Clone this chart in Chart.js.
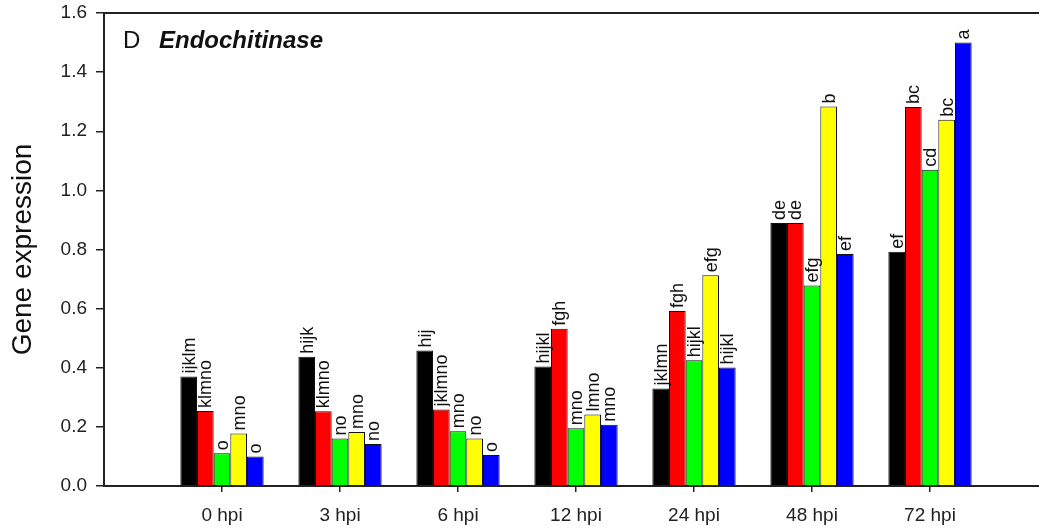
<!DOCTYPE html>
<html>
<head>
<meta charset="utf-8">
<script src="https://cdn.jsdelivr.net/npm/chart.js@4/dist/chart.umd.min.js"></script>
<style>
  html, body { margin: 0; padding: 0; background: #fff; overflow: hidden; }
  #wrap { position: relative; width: 1048px; height: 530px; }
</style>
</head>
<body>
<div id="wrap"><canvas id="barChart"></canvas></div>
<script>
// categories (time points)
const categories = ['0 hpi', '3 hpi', '6 hpi', '12 hpi', '24 hpi', '48 hpi', '72 hpi'];
const yTicks = [0, 0.2, 0.4, 0.6, 0.8, 1.0, 1.2, 1.4, 1.6];

// gene expression values, one array per bar colour
const blackValues  = [0.370, 0.437, 0.458, 0.404, 0.330, 0.890, 0.792];
const redValues    = [0.254, 0.253, 0.259, 0.532, 0.592, 0.890, 1.282];
const greenValues  = [0.111, 0.161, 0.185, 0.195, 0.425, 0.678, 1.070];
const yellowValues = [0.178, 0.183, 0.161, 0.242, 0.713, 1.284, 1.239];
const blueValues   = [0.100, 0.142, 0.105, 0.207, 0.401, 0.785, 1.500];

// significance letters above the bars
const blackLetters  = ['ijklm', 'hijk', 'hij', 'hijkl', 'jklmn', 'de', 'ef'];
const redLetters    = ['klmno', 'klmno', 'jklmno', 'fgh', 'fgh', 'de', 'bc'];
const greenLetters  = ['o', 'no', 'mno', 'mno', 'hijkl', 'efg', 'cd'];
const yellowLetters = ['mno', 'mno', 'no', 'lmno', 'efg', 'b', 'bc'];
const blueLetters   = ['o', 'no', 'o', 'mno', 'hijkl', 'ef', 'a'];

const FONT = 'Arial, "Liberation Sans", sans-serif';

// empty slot at each end so the axis runs past the first and last group
const labels = [''].concat(categories, ['']);
function pad(arr, fill) { return [fill].concat(arr, [fill]); }

function makeSet(name, values, letters, color) {
    return {
        label: name,
        data: pad(values, null),
        letters: pad(letters, ''),
        backgroundColor: color,
        borderColor: '#111',
        borderWidth: 1,
        borderSkipped: 'bottom',
        categoryPercentage: 0.706,
        barPercentage: 1.0
    };
}

// no extra padding from tick labels, so the plot box sits where the figure has it
function noPad(scale) {
    scale.paddingTop = 0;
    scale.paddingBottom = 0;
    scale.paddingLeft = 0;
    scale.paddingRight = 0;
}

const letterPlugin = {
    id: 'letters',
    afterDatasetsDraw(chart) {
        const ctx = chart.ctx;
        ctx.save();
        ctx.font = '18px ' + FONT;
        chart.data.datasets.forEach(function(ds, i) {
            const meta = chart.getDatasetMeta(i);
            meta.data.forEach(function(bar, j) {
                const txt = ds.letters[j];
                if (!txt || ds.data[j] == null) return;
                const w = ctx.measureText(txt).width;
                ctx.save();
                ctx.translate(bar.x, bar.y - 3);
                ctx.rotate(-Math.PI / 2);
                ctx.fillStyle = '#fff';
                ctx.fillRect(-1, -8, w + 2, 16);
                ctx.fillStyle = '#111';
                ctx.textAlign = 'left';
                ctx.textBaseline = 'middle';
                ctx.fillText(txt, 0, 1);
                ctx.restore();
            });
        });
        ctx.restore();
    }
};

const panelTitle = {
    id: 'panelTitle',
    afterDraw(chart) {
        const ctx = chart.ctx;
        const a = chart.chartArea;
        ctx.save();
        ctx.fillStyle = '#111';
        ctx.textBaseline = 'alphabetic';
        ctx.font = '24px ' + FONT;
        ctx.fillText('D', a.left + 19, a.top + 35);
        ctx.font = 'italic bold 24px ' + FONT;
        ctx.fillText('Endochitinase', a.left + 55, a.top + 35);
        ctx.restore();
    }
};

const barCtx = document.getElementById('barChart').getContext('2d');
const barChart = new Chart(barCtx, {
    type: 'bar',
    data: {
        labels: labels,
        datasets: [
            makeSet('black', blackValues, blackLetters, '#000000'),
            makeSet('red', redValues, redLetters, '#ff0000'),
            makeSet('green', greenValues, greenLetters, '#00ff00'),
            makeSet('yellow', yellowValues, yellowLetters, '#ffff00'),
            makeSet('blue', blueValues, blueLetters, '#0000ff')
        ]
    },
    options: {
        responsive: true,
        maintainAspectRatio: false,
        animation: false,
        layout: { padding: { top: 13, left: 0, right: 0, bottom: 0 } },
        plugins: {
            legend: { display: false },
            tooltip: { enabled: false }
        },
        scales: {
            x: {
                type: 'category',
                offset: false,
                afterFit: function(scale) { scale.height = 44; noPad(scale); },
                grid: {
                    offset: false,
                    drawOnChartArea: false,
                    tickLength: 6,
                    lineWidth: 1.5,
                    color: function(c) {
                        return (c.tick && c.tick.label) ? '#222' : 'rgba(0,0,0,0)';
                    }
                },
                border: { display: true, color: '#222', width: 2 },
                ticks: {
                    autoSkip: false,
                    maxRotation: 0,
                    padding: 12,
                    color: '#222',
                    font: { family: FONT, size: 19 }
                }
            },
            xTop: {
                type: 'category',
                position: 'top',
                offset: false,
                display: true,
                afterFit: function(scale) { scale.height = 0; noPad(scale); },
                grid: { display: false },
                ticks: { display: false },
                border: { display: true, color: '#222', width: 2 }
            },
            y: {
                min: 0,
                max: 1.6,
                afterFit: function(scale) { scale.width = 104; noPad(scale); },
                afterBuildTicks: function(scale) {
                    scale.ticks = yTicks.map(function(v) { return { value: v }; });
                },
                grid: {
                    drawOnChartArea: false,
                    tickLength: 8,
                    lineWidth: 1.5,
                    color: '#222'
                },
                border: { display: true, color: '#222', width: 2 },
                ticks: {
                    padding: 9,
                    color: '#222',
                    font: { family: FONT, size: 19 },
                    callback: function(v) { return Number(v).toFixed(1); }
                },
                title: {
                    display: true,
                    text: 'Gene expression',
                    color: '#111',
                    font: { family: FONT, size: 28 },
                    padding: { top: 6, bottom: 0 }
                }
            }
        }
    },
    plugins: [letterPlugin, panelTitle]
});
</script>
</body>
</html>
